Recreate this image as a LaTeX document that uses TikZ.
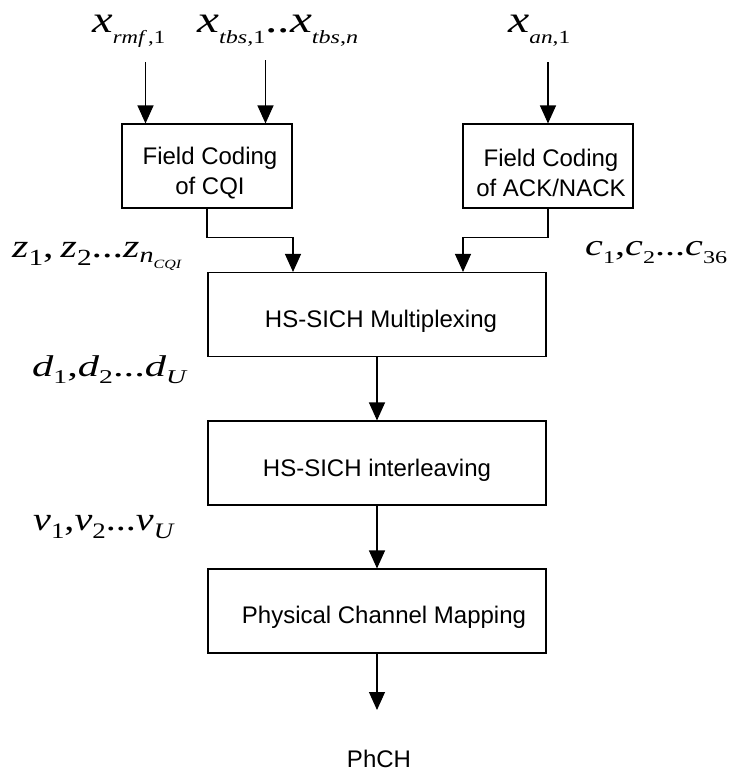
\documentclass[tikz,border=0pt]{standalone}
\usepackage{fontspec}
\setmainfont{Liberation Serif}
\newfontfamily\arial{Liberation Sans}
\usepackage{graphicx}
\usepackage{tikz}
\usetikzlibrary{arrows.meta}

\newcommand\sbs[3]{\raisebox{-#2}{\scalebox{#1}{#3}}}
\newcommand\fitw[2]{\resizebox{#1}{\height}{#2}}

\tikzset{
  blk/.style={draw, line width=1.1pt, minimum width=#1, minimum height=84pt, inner sep=0pt},
  blk/.default=338pt,
  txt/.style={font=\arial\fontsize{24}{30}\selectfont, align=center, inner sep=0pt},
  lab/.style={font=\fontsize{#1}{#1}\selectfont\itshape, anchor=base west, inner sep=0pt},
  arr/.style={line width=1.1pt, -{Triangle[length=18pt,width=16pt]}}
}

\begin{document}
\begin{tikzpicture}[x=1pt, y=-1pt]
\useasboundingbox (0,0) rectangle (729,772);

\node[lab=38] (xrmf) at (92,32) {\fitw{73pt}{x\sbs{.49}{11pt}{rmf\upshape\,,1}}};
\node[lab=38] (xtbs) at (197,32) {\fitw{161pt}{x\sbs{.49}{11pt}{tbs\upshape,1}\upshape..\itshape x\sbs{.49}{11pt}{tbs\upshape,\itshape n}}};
\node[lab=38] (xan) at (508,32) {\fitw{62pt}{x\sbs{.49}{11pt}{an\upshape,1}}};

\node[blk=170pt] (cqi) at (207,166) {};
\node[txt] (cqi-t) at (210,173) {Field Coding\\of CQI};
\node[blk=170pt] (ack) at (548,166) {};
\node[txt] (ack-t) at (551,173) {Field Coding\\of ACK/NACK};

\coordinate (rmfin) at (145.5,62);
\coordinate (tbsin) at (265.5,60);
\coordinate (anin) at (548,62);
\draw[arr] (rmfin) -- (rmfin |- cqi.north);
\draw[arr] (tbsin) -- (tbsin |- cqi.north);
\draw[arr] (anin) -- (ack.north);

\node[lab=33] (zlab) at (12,257) {\fitw{169pt}{z\sbs{.7}{8pt}{\upshape 1}\upshape,\,\itshape z\sbs{.7}{8pt}{\upshape 2}\upshape...\itshape z\sbs{.67}{5pt}{n\sbs{.57}{9pt}{CQI}}}};
\node[lab=30] (clab) at (585,255.5) {\fitw{142pt}{c\sbs{.6}{8pt}{\upshape 1}\upshape,\itshape c\sbs{.6}{8pt}{\upshape 2}\upshape...\itshape c\sbs{.6}{8pt}{\upshape 36}}};
\node[lab=30] (dlab) at (32,376.5) {\fitw{154pt}{d\sbs{.65}{6.5pt}{\upshape 1}\upshape,\itshape d\sbs{.65}{6.5pt}{\upshape 2}\upshape...\itshape d\sbs{.65}{6.5pt}{U}}};
\node[lab=33] (vlab) at (33,530) {\fitw{140pt}{v\sbs{.67}{8pt}{\upshape 1}\upshape,\itshape v\sbs{.67}{8pt}{\upshape 2}\upshape...\itshape v\sbs{.67}{8pt}{U}}};

\foreach \nm/\yy/\dx/\dy/\txt in {mux/314.5/4/7/HS-SICH Multiplexing, ilv/463/0/7/HS-SICH interleaving, pcm/611/7/6/Physical Channel Mapping} {
  \node[blk] (\nm) at (377,\yy) {};
  \node[txt] (\nm-t) at ([shift={(\dx,\dy)}]\nm.center) {\txt};
}

\draw[arr] (cqi.south) -- ++(0,29) -| ([xshift=-84pt]mux.north);
\draw[arr] (ack.south) -- ++(0,29) -| ([xshift=86pt]mux.north);
\foreach \a/\b in {mux/ilv, ilv/pcm}
  \draw[arr] (\a) -- (\b);

\coordinate (out) at (377,710);
\draw[arr] (pcm) -- (out);
\node[txt] (phch) at (379,759) {PhCH};

\end{tikzpicture}
\end{document}
